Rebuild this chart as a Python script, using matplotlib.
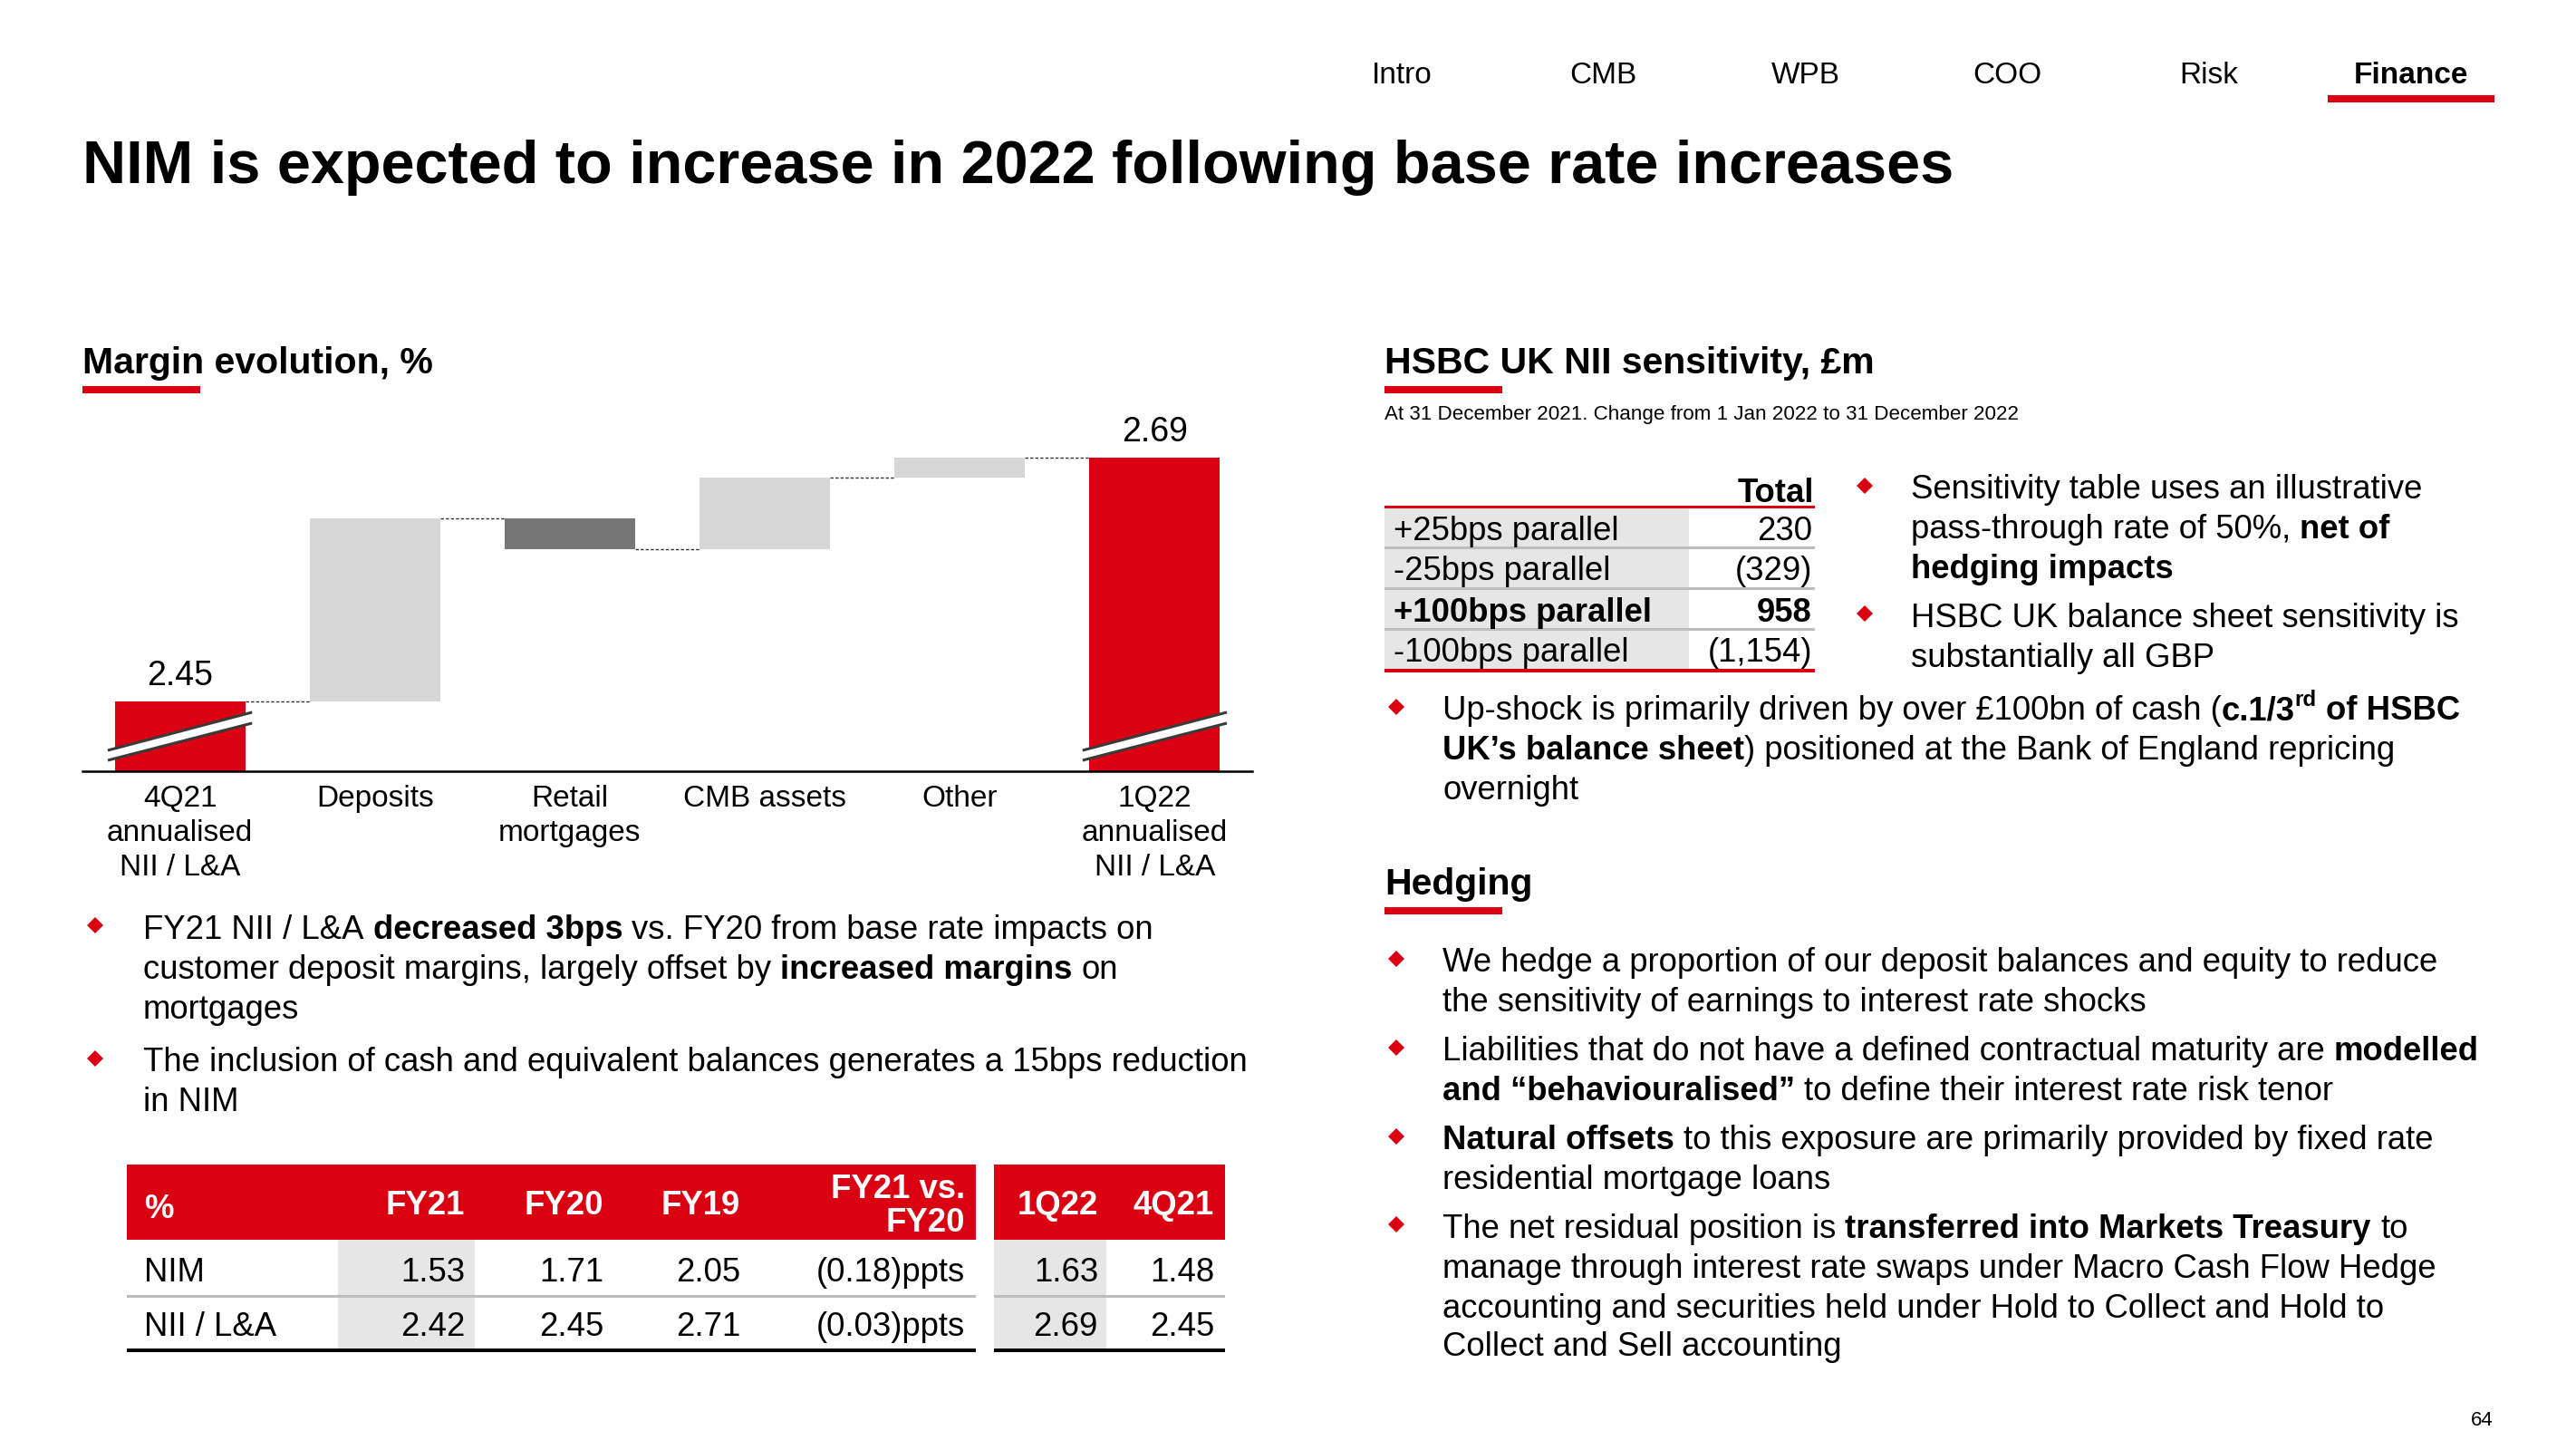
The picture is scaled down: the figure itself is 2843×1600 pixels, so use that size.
#!/usr/bin/env python3

import matplotlib
matplotlib.use("Agg")
import matplotlib.pyplot as plt
import matplotlib.transforms as mtransforms
from matplotlib.patches import Rectangle, Polygon

W, H = 2843, 1600
DPI = 100

RED = "#DB0011"
LIGHT = "#D7D7D7"
DARK = "#767676"
SHADE = "#E6E6E6"
SEP = "#BDBDBD"
BODY = 26.3

plt.rcParams["font.family"] = ["Liberation Sans", "DejaVu Sans"]

# --- waterfall data -------------------------------------------------------
steps = ["4Q21\nannualised\nNII / L&A", "Deposits", "Retail\nmortgages",
         "CMB assets", "Other", "1Q22\nannualised\nNII / L&A"]
start_value = 2.45
deltas = [0.18, -0.03, 0.07, 0.02]
end_value = 2.69
delta_colors = [LIGHT, DARK, LIGHT, LIGHT]

# --- margin table ---------------------------------------------------------
margin_cols = ["FY21", "FY20", "FY19", "FY21 vs.\nFY20", "1Q22", "4Q21"]
margin_rows = ["NIM", "NII / L&A"]
nim_values = ["1.53", "1.71", "2.05", "(0.18)ppts", "1.63", "1.48"]
nii_values = ["2.42", "2.45", "2.71", "(0.03)ppts", "2.69", "2.45"]

# --- sensitivity table ----------------------------------------------------
sens_labels = ["+25bps parallel", "-25bps parallel", "+100bps parallel", "-100bps parallel"]
sens_values = ["230", "(329)", "958", "(1,154)"]
sens_bold = [False, False, True, False]

nav_items = ["Intro", "CMB", "WPB", "COO", "Risk", "Finance"]

left_bullets = [
    [[("FY21 NII / L&A ", 0), ("decreased 3bps", 1), (" vs. FY20 from base rate impacts on", 0)],
     [("customer deposit margins, largely offset by ", 0), ("increased margins", 1), (" on", 0)],
     [("mortgages", 0)]],
    [[("The inclusion of cash and equivalent balances generates a 15bps reduction", 0)],
     [("in NIM", 0)]],
]
sens_bullets = [
    [[("Sensitivity table uses an illustrative", 0)],
     [("pass-through rate of 50%, ", 0), ("net of", 1)],
     [("hedging impacts", 1)]],
    [[("HSBC UK balance sheet sensitivity is", 0)],
     [("substantially all GBP", 0)]],
]
upshock_bullet = [
    [("Up-shock is primarily driven by over £100bn of cash (", 0), ("c.1/3", 1), ("rd", 2), (" of HSBC", 1)],
    [("UK’s balance sheet", 1), (") positioned at the Bank of England repricing", 0)],
    [("overnight", 0)],
]
hedging_bullets = [
    [[("We hedge a proportion of our deposit balances and equity to reduce", 0)],
     [("the sensitivity of earnings to interest rate shocks", 0)]],
    [[("Liabilities that do not have a defined contractual maturity are ", 0), ("modelled", 1)],
     [("and “behaviouralised”", 1), (" to define their interest rate risk tenor", 0)]],
    [[("Natural offsets", 1), (" to this exposure are primarily provided by fixed rate", 0)],
     [("residential mortgage loans", 0)]],
    [[("The net residual position is ", 0), ("transferred into Markets Treasury", 1), (" to", 0)],
     [("manage through interest rate swaps under Macro Cash Flow Hedge", 0)],
     [("accounting and securities held under Hold to Collect and Hold to", 0)],
     [("Collect and Sell accounting", 0)]],
]


fig = plt.figure(figsize=(W / DPI, H / DPI), dpi=DPI)
fig.patch.set_facecolor("white")
bg = fig.add_axes([0, 0, 1, 1])
bg.set_xlim(0, W)
bg.set_ylim(H, 0)
bg.axis("off")
renderer = fig.canvas.get_renderer()


def bar_rect(x0, x1, yc, thick, color):
    bg.add_patch(Rectangle((x0, yc - thick / 2), x1 - x0, thick, color=color, lw=0))


_space = {}


def space_width(size, weight):
    key = (size, weight)
    if key not in _space:
        a = bg.text(0, 0, "aa", fontsize=size, fontweight=weight)
        b = bg.text(0, 0, "a a", fontsize=size, fontweight=weight)
        _space[key] = b.get_window_extent(renderer).width - a.get_window_extent(renderer).width
        a.remove(); b.remove()
    return _space[key]


def rich_line(x, y, parts, size=BODY):
    for text, style in parts:
        weight = "bold" if style else "normal"
        fs = size * 0.66 if style == 2 else size
        yy = y - size * 0.42 if style == 2 else y
        if text.startswith(" "):
            x += space_width(size, weight)
        core = text.strip()
        if core:
            t = bg.text(x, yy, core, fontsize=fs, fontweight=weight,
                        va="center_baseline", ha="left")
            x += t.get_window_extent(renderer).width
        if text.endswith(" "):
            x += space_width(size, weight)
    return x


def bullet_list(bullets, x_dot, x_text, ys):
    k = 0
    for lines in bullets:
        bg.plot(x_dot, ys[k] - 1, marker="D", ms=9.5, color=RED, mec=RED, mew=0)
        for line in lines:
            rich_line(x_text, ys[k], line)
            k += 1


# --- header ---------------------------------------------------------------
for i, item in enumerate(nav_items):
    bg.text(1547 + i * 222.7, 80, item, fontsize=24, ha="center", va="center_baseline",
            fontweight="bold" if item == "Finance" else "normal")
bar_rect(2569, 2753, 109, 8, RED)
bg.text(91, 178, "NIM is expected to increase in 2022 following base rate increases",
        fontsize=48, fontweight="bold", va="center_baseline")

for x, y, txt in [(91, 397, "Margin evolution, %"), (1528, 397, "HSBC UK NII sensitivity, £m"),
                  (1528, 972, "Hedging")]:
    bg.text(x, y, txt, fontsize=29.5, fontweight="bold", va="center_baseline")
    bar_rect(x, x + 130, y + 33, 8, RED)
bg.text(1528, 455, "At 31 December 2021. Change from 1 Jan 2022 to 31 December 2022",
        fontsize=16.1, va="center_baseline")
bg.text(2752, 1565, "64", fontsize=16, ha="right", va="center_baseline")

# --- waterfall ------------------------------------------------------------
ax = fig.add_axes([91 / W, (H - 850.7) / H, (1382 - 91) / W, 450.7 / H])
ax.set_xlim(-0.5, 5.5)
ax.set_ylim(2.3816, 2.7836)
ax.patch.set_alpha(0)
bw = 0.67
n = len(steps)
ax.bar(0, start_value, width=bw, color=RED, zorder=2)
levels = [start_value]
level = start_value
for i, d in enumerate(deltas):
    ax.bar(i + 1, abs(d), bottom=min(level, level + d), width=bw, color=delta_colors[i], zorder=2)
    level += d
    levels.append(level)
ax.bar(n - 1, end_value, width=bw, color=RED, zorder=2)
for i, lv in enumerate(levels):
    ax.plot([i + bw / 2, i + 1 - bw / 2], [lv, lv], color="#333333", lw=1.0,
            linestyle=(0, (2.5, 1.5)), zorder=1)
trans = mtransforms.blended_transform_factory(ax.transData, ax.transAxes)
for i, v in [(0, start_value), (n - 1, end_value)]:
    ax.annotate("{:.2f}".format(v), (i, v), xytext=(0, 7), textcoords="offset points",
                ha="center", va="bottom", fontsize=27)
    xa, xb = i - 0.37, i + 0.37
    ax.add_patch(Polygon([(xa, 0.026), (xb, 0.117), (xb, 0.1436), (xa, 0.0504)],
                         closed=True, transform=trans, color="white", lw=0, zorder=3,
                         clip_on=False))
    for ya, yb in [(0.026, 0.117), (0.0504, 0.1436)]:
        ax.plot([xa, xb], [ya, yb], transform=trans, color="#3A3A3A", lw=2.2, zorder=4,
                clip_on=False, solid_capstyle="butt")
for s in ["top", "right", "left"]:
    ax.spines[s].set_visible(False)
ax.spines["bottom"].set_linewidth(1.8)
ax.set_yticks([])
ax.set_xticks(range(n))
ax.set_xticklabels(steps, fontsize=24, linespacing=1.3)
ax.tick_params(axis="x", length=0, pad=11)

# --- bullets ----------------------------------------------------------------
bullet_list(left_bullets, 105, 158, [1022, 1066, 1110, 1169, 1213])
bullet_list(sens_bullets, 2058, 2109, [537, 580, 625, 678, 722])
bullet_list([upshock_bullet], 1541, 1592, [781, 825, 868])
bullet_list(hedging_bullets, 1541, 1592,
            [1059, 1102, 1157, 1200, 1255, 1298, 1352, 1396, 1440, 1483])

# --- margin table -----------------------------------------------------------
col_right = [513, 666, 817, 1065, 1212, 1340]
bg.add_patch(Rectangle((139.6, 1285), 1077 - 139.6, 83, color=RED, lw=0))
bg.add_patch(Rectangle((1097, 1285), 1352 - 1097, 83, color=RED, lw=0))
bg.add_patch(Rectangle((373, 1368), 524 - 373, 122, color=SHADE, lw=0))
bg.add_patch(Rectangle((1097, 1368), 1221 - 1097, 122, color=SHADE, lw=0))
bg.text(159, 1331, "%", fontsize=BODY, color="white", fontweight="bold", va="center_baseline")
for xr, col in zip(col_right, margin_cols):
    bg.text(xr, 1331, col, fontsize=BODY, color="white", fontweight="bold", ha="right",
            va="center", multialignment="right", linespacing=1.1)
for yc, name, vals in [(1400, margin_rows[0], nim_values), (1460, margin_rows[1], nii_values)]:
    bg.text(159, yc, name, fontsize=BODY, va="center_baseline")
    for xr, v in zip(col_right, vals):
        bg.text(xr, yc, v, fontsize=BODY, ha="right", va="center_baseline")
for x0, x1 in [(139.6, 1077), (1097, 1352)]:
    bar_rect(x0, x1, 1430.5, 3, SEP)
    bar_rect(x0, x1, 1490, 4, "black")

# --- sensitivity table ------------------------------------------------------
bg.text(2002, 540, "Total", fontsize=BODY, fontweight="bold", ha="right", va="center_baseline")
bg.add_patch(Rectangle((1528, 560), 1864 - 1528, 180, color=SHADE, lw=0))
row_y = [582, 627, 672, 717]
for yc, lab, val, b in zip(row_y, sens_labels, sens_values, sens_bold):
    w = "bold" if b else "normal"
    bg.text(1538, yc, lab, fontsize=BODY, fontweight=w, va="center_baseline")
    bg.text(2000, yc, val, fontsize=BODY, fontweight=w, ha="right", va="center_baseline")
for yc in [604.5, 649.5, 694.5]:
    bar_rect(1528, 2003, yc, 3, SEP)
bar_rect(1528, 2003, 559.5, 3.5, RED)
bar_rect(1528, 2003, 740, 3.5, RED)

fig.savefig("out.png", dpi=DPI)
